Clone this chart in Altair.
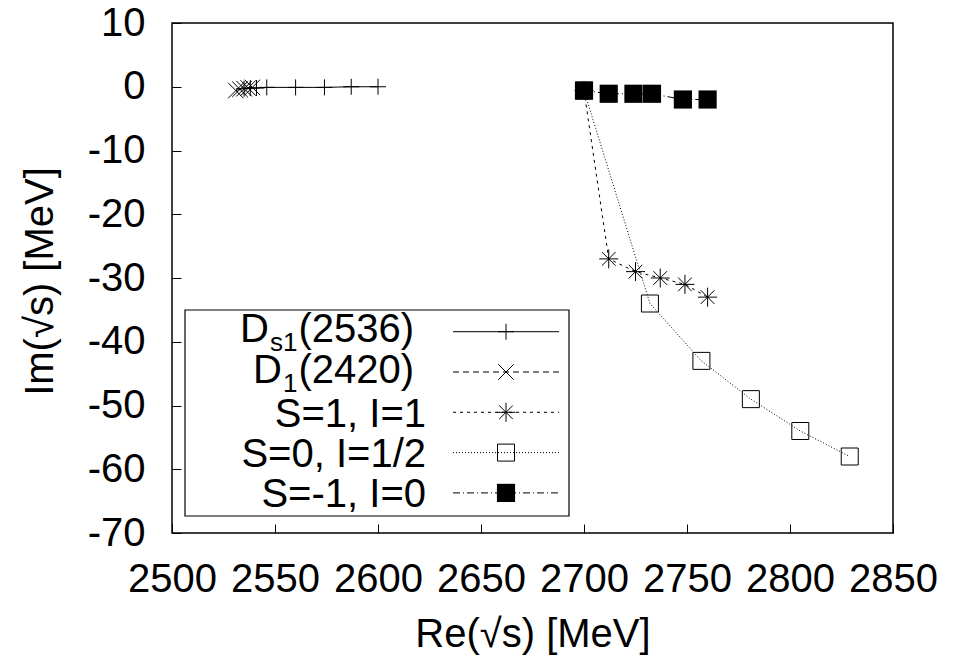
import altair as alt
import pandas as pd

# ---------------- data ----------------
ds1_re = [2535, 2538, 2541, 2546, 2560, 2574, 2587, 2600]
ds1_im = [-0.3, -0.2, -0.2, -0.1, -0.1, -0.1, 0.0, 0.0]

d1_re = [2531, 2533, 2535, 2537, 2539]
d1_im = [-0.6, -0.4, -0.3, -0.2, -0.1]

s1_re = [2700, 2712, 2725, 2737, 2749, 2760]
s1_im = [-0.6, -27, -29, -30, -31, -33]

s0_re = [2700, 2732, 2757, 2781, 2805, 2829]
s0_im = [-0.6, -34, -43, -49, -54, -58]

sm_re = [2700, 2712, 2724, 2733, 2748, 2760]
sm_im = [-0.6, -1.1, -1.1, -1.1, -2.0, -2.0]

x_ticks = [2500, 2550, 2600, 2650, 2700, 2750, 2800, 2850]
y_ticks = [-70, -60, -50, -40, -30, -20, -10, 0, 10]

legend_main = ["D", "D", "S=1, I=1", "S=0, I=1/2", "S=-1, I=0"]
legend_sub = ["s1", "1", "", "", ""]
legend_tail = ["(2536)", "(2420)", "", "", ""]

# ---------------- style ----------------
FONT = "Liberation Sans"
FS = 40
LFS = 40      # legend plain labels
CFS = 40      # legend composite labels
SUB_FS = 26
W, H = 721, 510

PLUS = "M-1,0L1,0M0,-1L0,1"
CROSS = "M-1,-1L1,1M-1,1L1,-1"
STAR = "M-1,0L1,0M0,-1L0,1M-0.72,-0.72L0.72,0.72M-0.72,0.72L0.72,-0.72"

styles = [
    dict(dash=None, shape=PLUS, size=256, filled=False),
    dict(dash=[6, 4], shape=CROSS, size=240, filled=False),
    dict(dash=[3, 4], shape=STAR, size=360, filled=False),
    dict(dash=[1, 2], shape="square", size=289, filled=False),
    dict(dash=[7, 3, 1, 3], shape="square", size=330, filled=True),
]
series = [(ds1_re, ds1_im), (d1_re, d1_im), (s1_re, s1_im), (s0_re, s0_im), (sm_re, sm_im)]

x_scale = alt.Scale(domain=[2500, 2850], nice=False, zero=False)
y_scale = alt.Scale(domain=[-70, 10], nice=False, zero=False)

common_axis = dict(
    grid=False, domain=False, tickSize=9, offset=-9, tickColor="black", tickWidth=1,
    labelFont=FONT, labelFontSize=FS, labelColor="black",
    titleFont=FONT, titleFontSize=FS, titleColor="black", titleFontWeight="normal",
    labelFlush=False, labelOverlap=False, labelExpr="'' + datum.value",
)
x_axis = alt.Axis(values=x_ticks, title="Re(√s) [MeV]", labelPadding=26,
                  titleY=110, titleBaseline="middle", **common_axis)
y_axis = alt.Axis(values=y_ticks, title="Im(√s) [MeV]", labelPadding=27,
                  titleX=-141, titleY=H / 2 + 3, titleAngle=270, titleAlign="center",
                  titleBaseline="middle", **common_axis)

layers = []
for (re, im), st in zip(series, styles):
    df = pd.DataFrame({"re": re, "im": im, "ord": list(range(len(re)))})
    enc = dict(x=alt.X("re:Q", scale=x_scale, axis=x_axis),
               y=alt.Y("im:Q", scale=y_scale, axis=y_axis))
    line_kw = dict(color="black", strokeWidth=1)
    if st["dash"]:
        line_kw["strokeDash"] = st["dash"]
    layers.append(alt.Chart(df).mark_line(**line_kw).encode(order="ord:Q", **enc))
    if st["filled"]:
        pt = alt.Chart(df).mark_point(shape=st["shape"], size=st["size"], filled=True,
                                      fill="black", stroke="black", strokeWidth=0, opacity=1)
    else:
        pt = alt.Chart(df).mark_point(shape=st["shape"], size=st["size"], filled=False,
                                      stroke="black", strokeWidth=1, opacity=1)
    layers.append(pt.encode(**enc))

# ---------------- legend (drawn by hand, gnuplot style) ----------------
one = pd.DataFrame({"k": [0]})
layers.append(alt.Chart(one).mark_rect(fillOpacity=0, stroke="black", strokeWidth=1.2).encode(
    x=alt.value(13), x2=alt.value(397), y=alt.value(287), y2=alt.value(493)))

row_y0, row_dy = 308.7, 40.3
line_x1, line_x2, mark_x = 281, 387, 334

widths = {"(": 0.333, ")": 0.333, "s": 0.5, "D": 0.722}
def text_w(t, fs):
    return sum(widths.get(c, 0.556) for c in t) * fs

for i, st in enumerate(styles):
    yy = row_y0 + row_dy * i
    rule_kw = dict(color="black", strokeWidth=1)
    if st["dash"]:
        rule_kw["strokeDash"] = st["dash"]
    layers.append(alt.Chart(one).mark_rule(**rule_kw).encode(
        x=alt.value(line_x1), x2=alt.value(line_x2), y=alt.value(yy)))
    if st["filled"]:
        pm = alt.Chart(one).mark_point(shape=st["shape"], size=st["size"], filled=True,
                                       fill="black", strokeWidth=0, opacity=1)
    else:
        pm = alt.Chart(one).mark_point(shape=st["shape"], size=st["size"], filled=False,
                                       stroke="black", strokeWidth=1, opacity=1)
    layers.append(pm.encode(x=alt.value(mark_x), y=alt.value(yy)))

    txt = dict(align="right", baseline="alphabetic", font=FONT, color="black")
    if legend_sub[i]:
        right = 242
        base = yy + 10.5
        layers.append(alt.Chart(pd.DataFrame({"t": [legend_tail[i]]})).mark_text(fontSize=CFS, **txt).encode(
            x=alt.value(right), y=alt.value(base), text="t:N"))
        right -= text_w(legend_tail[i], CFS) + 1
        layers.append(alt.Chart(pd.DataFrame({"t": [legend_sub[i]]})).mark_text(fontSize=SUB_FS, **txt).encode(
            x=alt.value(right), y=alt.value(base + 9), text="t:N"))
        right -= text_w(legend_sub[i], SUB_FS) + 1
        layers.append(alt.Chart(pd.DataFrame({"t": [legend_main[i]]})).mark_text(fontSize=CFS, **txt).encode(
            x=alt.value(right), y=alt.value(base), text="t:N"))
    else:
        layers.append(alt.Chart(pd.DataFrame({"t": [legend_main[i]]})).mark_text(fontSize=LFS, **txt).encode(
            x=alt.value(254), y=alt.value(yy + 14.3), text="t:N"))

chart = alt.layer(*layers).properties(
    width=W, height=H,
    autosize=alt.AutoSizeParams(type="none"),
    padding={"left": 172, "top": 23, "right": 953 - 172 - W, "bottom": 658 - 23 - H},
    background="white",
).configure_view(stroke="black", strokeWidth=1.5)

chart.save("out.html", embed_options={"renderer": "svg", "actions": False})
